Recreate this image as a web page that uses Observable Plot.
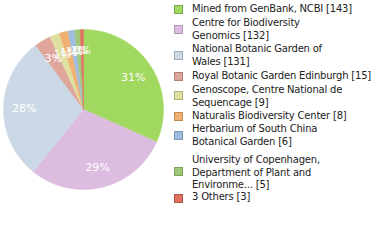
<!DOCTYPE html>
<html><head><meta charset="utf-8">
<script src="https://cdn.jsdelivr.net/npm/d3@7"></script>
<script src="https://cdn.jsdelivr.net/npm/@observablehq/plot@0.6"></script>
<style>
body{margin:0;background:#fff;}
#wrap{position:relative;width:380px;height:240px;overflow:hidden;}
#legend{position:absolute;left:0;top:0;font-family:"DejaVu Sans",sans-serif;font-size:10px;color:#222;letter-spacing:-0.2px;}
.item{position:absolute;left:192px;line-height:12.5px;white-space:nowrap;}
.sw{position:absolute;width:7px;height:7px;border:1px solid;}
</style></head>
<body><div id="wrap"><div id="legend"></div></div>
<script>
const categories = ["Mined from GenBank, NCBI","Centre for Biodiversity Genomics","National Botanic Garden of Wales","Royal Botanic Garden Edinburgh","Genoscope, Centre National de Sequencage","Naturalis Biodiversity Center","Herbarium of South China Botanical Garden","University of Copenhagen, Department of Plant and Environme...","3 Others"];
const legendLines = [["Mined from GenBank, NCBI [143]"],["Centre for Biodiversity","Genomics [132]"],["National Botanic Garden of","Wales [131]"],["Royal Botanic Garden Edinburgh [15]"],["Genoscope, Centre National de","Sequencage [9]"],["Naturalis Biodiversity Center [8]"],["Herbarium of South China","Botanical Garden [6]"],["University of Copenhagen,","Department of Plant and","Environme... [5]"],["3 Others [3]"]];
const counts = [143,132,131,15,9,8,6,5,3];
const colors = ["#a0d860","#dcbcdf","#cbd9e6","#dfa69c","#dfe0a0","#f0b070","#a0bde0","#a0c878","#e07060"];
const borders = ["#7aa850","#b098b4","#a0aebb","#b08078","#b0b27c","#c08a50","#7a98bc","#7ea058","#b05848"];

const total = d3.sum(counts);
const arcs = d3.pie().sort(null).value(d=>d)(counts);
const pts = [];
arcs.forEach((a,i)=>{
  pts.push({cat:categories[i], x:0, y:0});
  const n = Math.max(2, Math.ceil((a.endAngle-a.startAngle)/0.01));
  for(let k=0;k<=n;k++){
    const t = a.startAngle + (a.endAngle-a.startAngle)*k/n;
    pts.push({cat:categories[i], x:Math.sin(t), y:Math.cos(t)});
  }
  pts.push({cat:categories[i], x:0, y:0});
});
const labels = arcs.map((a,i)=>{
  const m=(a.startAngle+a.endAngle)/2;
  return {x:0.74*Math.sin(m), y:0.74*Math.cos(m), t:Math.floor(counts[i]/total*100)+"%"};
});

const chart = Plot.plot({
  width:380, height:240,
  marginLeft:3, marginRight:217, marginTop:29, marginBottom:51,
  x:{domain:[-1,1], axis:null},
  y:{domain:[-1,1], axis:null},
  color:{domain:categories, range:colors},
  marks:[
    Plot.line(pts,{x:"x",y:"y",z:"cat",fill:"cat",stroke:"cat",strokeWidth:0.5,curve:"linear"}),
    Plot.text(labels,{x:"x",y:"y",text:"t",fill:"white",fontSize:11,fontFamily:"DejaVu Sans"})
  ]
});
chart.style.position="absolute"; chart.style.left="0"; chart.style.top="0";
document.getElementById("wrap").prepend(chart);

const textTops=[3,17,43,70,84,110,123,154,191];
const swTops=[5,25,51,72,91,112,131,167,194];
const lg=document.getElementById("legend");
legendLines.forEach((lines,i)=>{
  const s=document.createElement("div");s.className="sw";
  s.style.left="174px";s.style.top=swTops[i]+"px";s.style.background=colors[i];s.style.borderColor=borders[i];
  lg.appendChild(s);
  const d=document.createElement("div");d.className="item";d.style.top=textTops[i]+"px";
  d.innerHTML=lines.join("<br>");lg.appendChild(d);
});
</script></body></html>
